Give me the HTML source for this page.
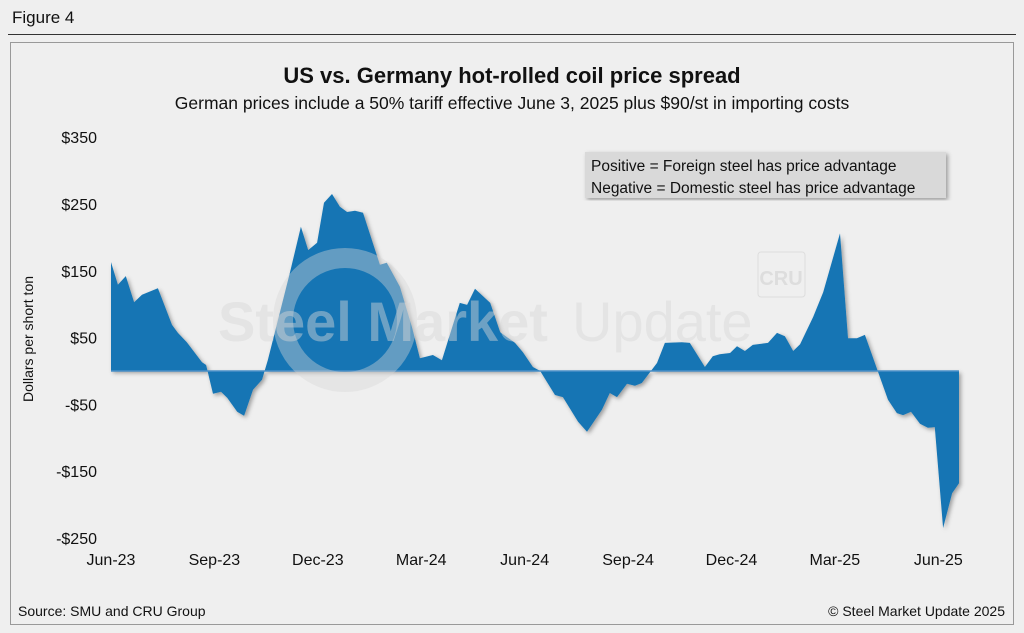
<!DOCTYPE html>
<html><head><meta charset="utf-8"><style>
body{margin:0;width:1024px;height:633px;background:#efefef;font-family:"Liberation Sans",sans-serif;overflow:hidden;position:relative}
.t{position:absolute;white-space:nowrap;color:#111}
</style></head><body>
<div class="t" style="left:12px;top:8px;font-size:17px">Figure 4</div>
<div style="position:absolute;left:8px;top:34px;width:1008px;height:1px;background:#333"></div>
<div style="position:absolute;left:10px;top:42px;width:1004px;height:583px;border:1px solid #999;box-sizing:border-box;background:#efefef"></div>
<svg width="1024" height="633" style="position:absolute;left:0;top:0">
<defs><filter id="sh" x="-5%" y="-5%" width="110%" height="110%"><feDropShadow dx="2" dy="2" stdDeviation="2" flood-color="#000" flood-opacity="0.35"/></filter></defs>
<g id="plot"></g>
<g id="wm">
<circle cx="345" cy="320" r="62" fill="none" stroke="#d8d8d8" stroke-opacity="0.4" stroke-width="20"/>
<text x="218" y="341" font-size="56" font-weight="bold" fill="#d8d8d8" fill-opacity="0.45" font-family="Liberation Sans">Steel Market</text>
<text x="572" y="341" font-size="56" fill="#d8d8d8" fill-opacity="0.45" font-family="Liberation Sans">Update</text>
<rect x="758" y="252" width="47" height="45" rx="3" fill="none" stroke="#ddd"/>
<text x="781" y="285" font-size="20" font-weight="bold" fill="#ddd" text-anchor="middle">CRU</text>
</g>
<text x="512" y="83" font-size="22" font-weight="bold" text-anchor="middle" fill="#111">US vs. Germany hot-rolled coil price spread</text>
<text x="512" y="109" font-size="17.5" text-anchor="middle" fill="#111">German prices include a 50% tariff effective June 3, 2025 plus $90/st in importing costs</text>
<text transform="translate(33,339) rotate(-90)" font-size="14" text-anchor="middle" fill="#111">Dollars per short ton</text>
<g>
<rect x="585" y="152" width="361" height="46" fill="#d9d9d9" filter="url(#sh)"/>
<text x="591" y="171" font-size="15.5" fill="#111">Positive = Foreign steel has price advantage</text>
<text x="591" y="193" font-size="15.5" fill="#111">Negative = Domestic steel has price advantage</text>
</g>
<text x="18" y="616" font-size="14" fill="#111">Source: SMU and CRU Group</text>
<text x="1005" y="616" font-size="14" text-anchor="end" fill="#111">© Steel Market Update 2025</text>
</svg>
<script>
const months=[0,0.2,0.43,0.67,0.9,1.36,1.77,1.94,2.2,2.64,2.76,2.96,3.19,3.37,3.66,3.86,4.12,4.38,4.55,5.19,5.51,5.72,5.98,6.18,6.41,6.64,6.85,7.08,7.31,7.8,8.0,8.38,8.73,8.96,9.34,9.6,10.12,10.33,10.56,11.0,11.29,11.72,11.95,12.24,12.45,12.88,13.11,13.55,13.81,14.24,14.47,14.68,14.97,15.2,15.4,15.84,16.07,16.56,16.79,17.23,17.46,17.66,17.96,18.16,18.39,18.62,19.06,19.32,19.55,19.79,19.99,20.37,20.66,21.15,21.38,21.64,21.87,22.25,22.54,22.8,22.98,23.21,23.47,23.7,23.9,24.14,24.4,24.6];
const spread=[163,129,142,103,114,124,69,57,43,13,9,-34,-31,-40,-61,-67,-28,-13,16,147,216,181,192,252,265,246,238,240,237,159,162,126,66,19,24,16,102,99,123,102,58,42,28,6,0,-36,-39,-76,-91,-58,-33,-39,-19,-22,-18,12,42,43,42,6,22,25,27,37,30,39,42,57,52,30,40,81,118,206,49,49,54,-1,-43,-63,-66,-61,-79,-85,-84,-235,-183,-168];
const yTicks=[350,250,150,50,-50,-150,-250];
const yTickLabels=["$350","$250","$150","$50","-$50","-$150","-$250"];
const xTickMonths=[0,3,6,9,12,15,18,21,24];
const xTickLabels=["Jun-23","Sep-23","Dec-23","Mar-24","Jun-24","Sep-24","Dec-24","Mar-25","Jun-25"];
const X=m=>111+m*34.47;
const Y=v=>371-v*0.668;
const NS="http://www.w3.org/2000/svg";
const svg=document.querySelector('svg'),plot=document.getElementById('plot');
let d=`M${X(months[0])},${Y(0)}`;
months.forEach((m,i)=>{d+=` L${X(m).toFixed(1)},${Y(spread[i]).toFixed(1)}`});
d+=` L${X(months[months.length-1])},${Y(0)} Z`;
const p=document.createElementNS(NS,'path');
p.setAttribute('d',d);p.setAttribute('fill','#1274b4');p.setAttribute('filter','url(#sh)');


plot.appendChild(p);
const zl=document.createElementNS(NS,'line');
zl.setAttribute('x1',X(0));zl.setAttribute('x2',X(months[months.length-1]));zl.setAttribute('y1',Y(0));zl.setAttribute('y2',Y(0));zl.setAttribute('stroke','#4a90c8');zl.setAttribute('stroke-width','1.5');


plot.appendChild(zl);
yTicks.forEach((v,i)=>{const t=document.createElementNS(NS,'text');
t.setAttribute('x',97);t.setAttribute('y',Y(v)+6);t.setAttribute('text-anchor','end');t.setAttribute('font-size','16');t.setAttribute('fill','#111');t.textContent=yTickLabels[i];


svg.appendChild(t);});
xTickMonths.forEach((m,i)=>{const t=document.createElementNS(NS,'text');
t.setAttribute('x',X(m));t.setAttribute('y',565);t.setAttribute('text-anchor','middle');t.setAttribute('font-size','16');t.setAttribute('fill','#111');t.textContent=xTickLabels[i];


svg.appendChild(t);});
</script>
</body></html>
